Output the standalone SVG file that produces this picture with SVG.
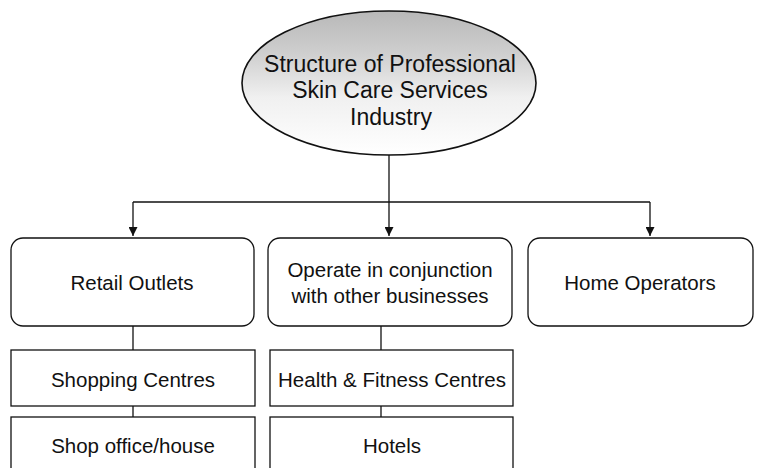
<svg xmlns="http://www.w3.org/2000/svg" width="760" height="468" viewBox="0 0 760 468">
  <style>
    .box { fill: #ffffff; stroke: #111111; stroke-width: 1.3; }
    .lbl { font-family: "Liberation Sans", Arial, sans-serif; font-size: 20.5px; fill: #111111; text-anchor: middle; }
    .title { font-family: "Liberation Sans", Arial, sans-serif; font-size: 23px; fill: #111111; text-anchor: middle; }
    .wire { fill: none; stroke: #111111; stroke-width: 1.3; }
  </style>
  <defs>
    <marker id="arrow" viewBox="0 0 10 10" refX="10" refY="5" markerWidth="9" markerHeight="9" markerUnits="userSpaceOnUse" orient="auto">
      <path d="M0,0 L10,5 L0,10 Z" fill="#111111"/>
    </marker>
    <linearGradient id="shade" x1="0" y1="0" x2="0" y2="1">
      <stop offset="0" stop-color="#b8b8b8"/>
      <stop offset="0.3" stop-color="#cfcfcf"/>
      <stop offset="0.6" stop-color="#f0f0f0"/>
      <stop offset="1" stop-color="#ffffff"/>
    </linearGradient>
  </defs>
  <rect width="760" height="468" fill="#ffffff"/>

  <!-- connectors -->
  <g id="connectors">
    <path class="wire" d="M389,155 L389,236" marker-end="url(#arrow)"/>
    <path class="wire" d="M133,202 L650,202"/>
    <path class="wire" d="M133,202 L133,236" marker-end="url(#arrow)"/>
    <path class="wire" d="M650,202 L650,236" marker-end="url(#arrow)"/>
    <path class="wire" d="M133,326 L133,350"/>
    <path class="wire" d="M133,406 L133,417"/>
    <path class="wire" d="M381,326 L381,350"/>
    <path class="wire" d="M381,406 L381,417"/>
  </g>

  <g id="root">
    <ellipse class="box" cx="389" cy="83" rx="147" ry="72" style="fill:url(#shade);stroke-width:1.6"/>
    <text class="title" x="390" y="72">Structure of Professional</text>
    <text class="title" x="390" y="98">Skin Care Services</text>
    <text class="title" x="391" y="125">Industry</text>
  </g>

  <g id="retail">
    <rect class="box" x="11" y="238" width="243" height="88" rx="12"/>
    <text class="lbl" x="132" y="290">Retail Outlets</text>
  </g>
  <g id="conjunction">
    <rect class="box" x="268" y="238" width="244" height="88" rx="12"/>
    <text class="lbl" x="390" y="277">Operate in conjunction</text>
    <text class="lbl" x="390" y="303">with other businesses</text>
  </g>
  <g id="home">
    <rect class="box" x="528" y="238" width="225" height="88" rx="12"/>
    <text class="lbl" x="640" y="290">Home Operators</text>
  </g>

  <g id="shopping">
    <rect class="box" x="11" y="350" width="244" height="56"/>
    <text class="lbl" x="133" y="387">Shopping Centres</text>
  </g>
  <g id="shop-office">
    <rect class="box" x="11" y="417" width="244" height="66"/>
    <text class="lbl" x="133" y="453">Shop office/house</text>
  </g>
  <g id="fitness">
    <rect class="box" x="270" y="350" width="243" height="56"/>
    <text class="lbl" x="392" y="387">Health &amp; Fitness Centres</text>
  </g>
  <g id="hotels">
    <rect class="box" x="270" y="417" width="243" height="66"/>
    <text class="lbl" x="392" y="453">Hotels</text>
  </g>
</svg>
